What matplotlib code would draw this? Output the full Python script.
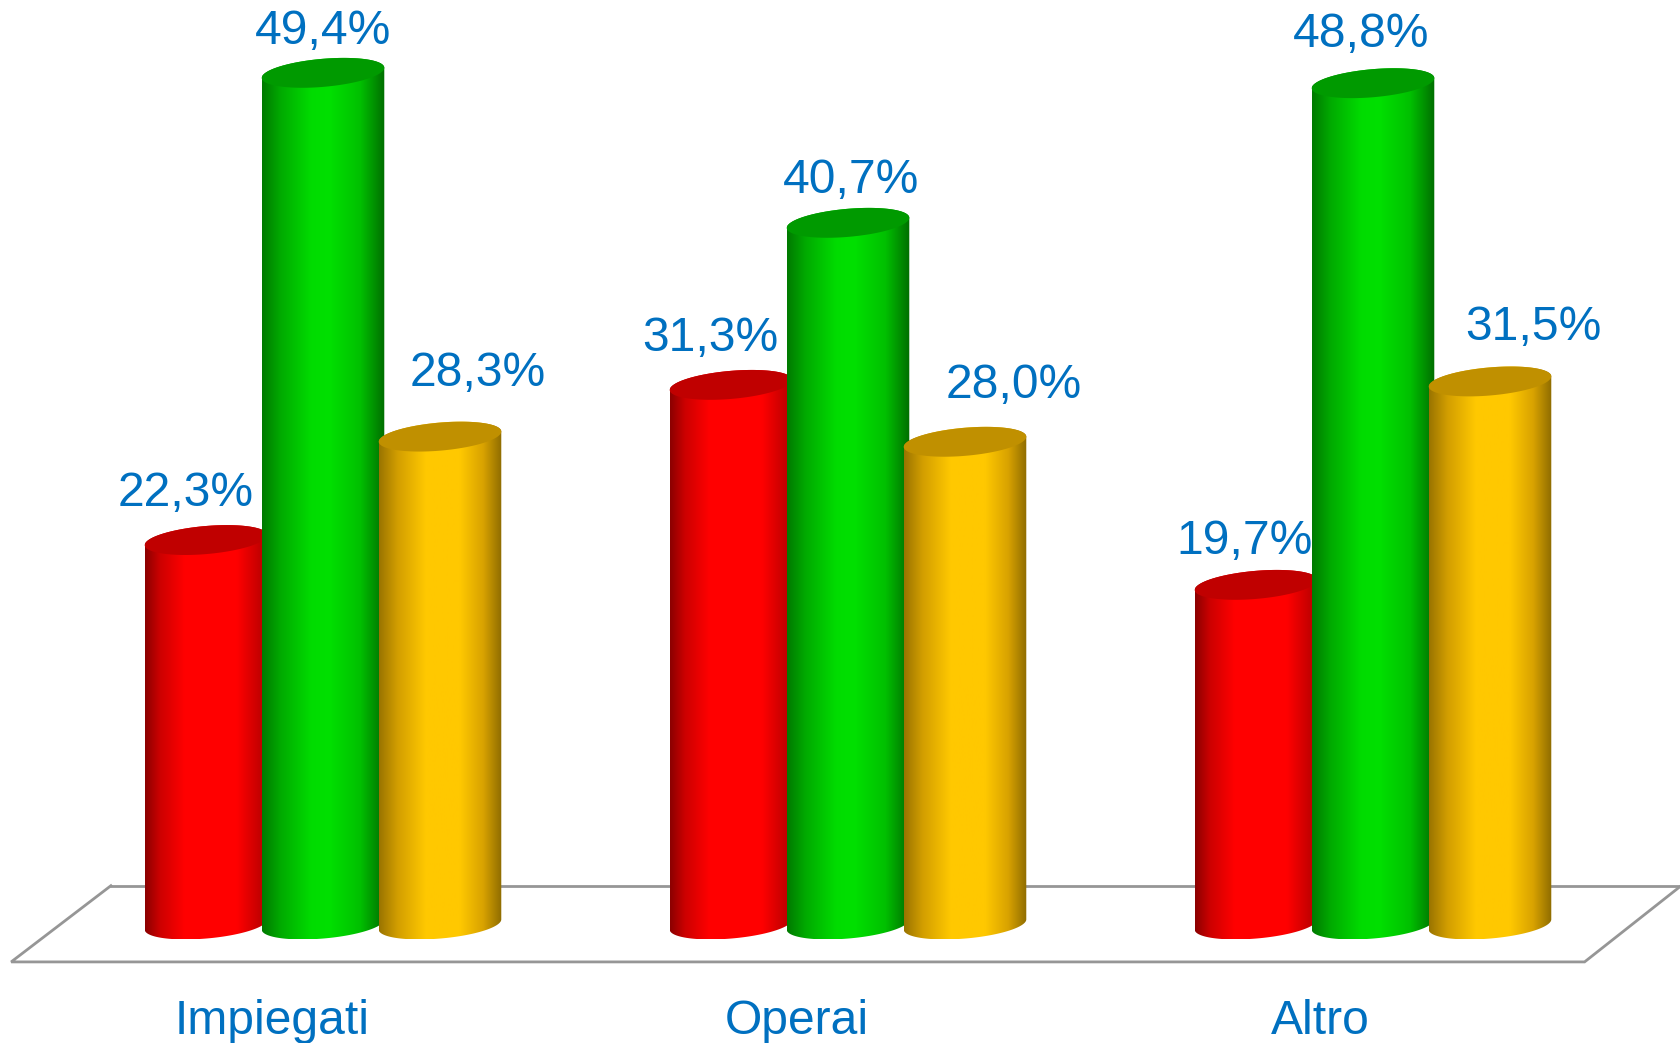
import numpy as np
import matplotlib
matplotlib.use("Agg")
import matplotlib.pyplot as plt
from matplotlib.colors import LinearSegmentedColormap
from matplotlib.patches import Polygon

plt.rcParams["font.family"] = ["Liberation Sans", "DejaVu Sans"]

categories = ["Impiegati", "Operai", "Altro"]
rosso = [22.3, 31.3, 19.7]
verde = [49.4, 40.7, 48.8]
giallo = [28.3, 28.0, 31.5]

# label nudges in pixels, the labels were placed by hand in the original
rosso_dx = [-20, -21, -11]
rosso_dy = [46.5, 46, 43.5]
verde_dx = [0, 3, -12]
verde_dy = [41, 42, 49]
giallo_dx = [38, 49, 43]
giallo_dy = [63, 56, 54]

W, H = 1681, 1043
PX_X = 525.0   # pixels per category
PX_Y = 17.24   # pixels per percent point
X0, Y0 = 323.0, 924.5
STEP = 117 / PX_X
A, B, TILT = 61.5, 14.0, np.radians(5)
BLUE = "#0070C0"

fig = plt.figure(figsize=(W / 100, H / 100), dpi=100, facecolor="white")
ax = fig.add_axes([0, 0, 1, 1])
ax.axis("off")
xlim = (-X0 / PX_X, (W - X0) / PX_X)
ylim = ((Y0 - H) / PX_Y, Y0 / PX_Y)


def ellipse(cx, cy, t):
    dx = A * np.cos(t) * np.cos(TILT) - B * np.sin(t) * np.sin(TILT)
    dy = A * np.cos(t) * np.sin(TILT) + B * np.sin(t) * np.cos(TILT)
    return cx + dx / PX_X, cy + dy / PX_Y


def cylinder(ax, x, value, stops, cap, z):
    t0 = np.arctan2(-B * np.sin(TILT), A * np.cos(TILT))
    lower = np.linspace(t0 + np.pi, t0 + 2 * np.pi, 80)
    upper = np.linspace(t0, t0 + np.pi, 80)
    bx, by = ellipse(x, 0, lower)
    tx, ty = ellipse(x, value, upper)
    outline = np.column_stack([np.r_[bx, tx], np.r_[by, ty]])
    body = Polygon(outline, closed=True, fc="none", ec="none", transform=ax.transData)
    ax.add_patch(body)
    cmap = LinearSegmentedColormap.from_list("c", stops)
    grad = np.linspace(0, 1, 256)[None, :]
    im = ax.imshow(grad, cmap=cmap, aspect="auto", interpolation="bilinear",
                   extent=(bx.min(), bx.max(), by.min(), ty.max()), zorder=z)
    im.set_clip_path(body)
    cx, cy = ellipse(x, value, np.linspace(0, 2 * np.pi, 160))
    ax.fill(cx, cy, color=cap, lw=0, zorder=z + 0.1)


series = [
    (rosso, rosso_dx, rosso_dy, -1, "#C00000",
     [(0, "#8B0000"), (0.12, "#CC0000"), (0.32, "#FF0000"), (0.75, "#FF0000"), (1, "#B00000")]),
    (verde, verde_dx, verde_dy, 0, "#009A00",
     [(0, "#007A00"), (0.15, "#00AA00"), (0.4, "#00DC00"), (0.55, "#00E000"), (0.8, "#00C000"), (1, "#006E00")]),
    (giallo, giallo_dx, giallo_dy, 1, "#C09000",
     [(0, "#9A7400"), (0.15, "#D29E00"), (0.38, "#FFC800"), (0.66, "#FFC800"), (0.85, "#D8A200"), (1, "#8F6C00")]),
]

# floor
floor_x = [-0.404, xlim[1]]
ax.plot(floor_x, [2.25, 2.25], color="#969696", lw=2.0, zorder=1)
ax.plot([-0.404, -0.594, 2.403, 2.587], [2.25, -2.17, -2.17, 2.25],
        color="#969696", lw=2.0, zorder=1, solid_joinstyle="miter")

label_dx = [-51, -51, -53]
for i, cat in enumerate(categories):
    for j, (vals, ldx, ldy, off, cap, stops) in enumerate(series):
        x = i + off * STEP
        cylinder(ax, x, vals[i], stops, cap, 3 + i * 3 + j)
        label = f"{vals[i]:.1f}%".replace(".", ",")
        ax.text(x + ldx[i] / PX_X, vals[i] + ldy[i] / PX_Y, label, color=BLUE,
                fontsize=34.6, ha="center", va="center", zorder=30)
    ax.text(i + label_dx[i] / PX_X, -109.5 / PX_Y, cat, color=BLUE, fontsize=34.6,
            ha="center", va="baseline", zorder=30)

ax.set_xlim(xlim)
ax.set_ylim(ylim)
fig.savefig("out.png", dpi=100, facecolor="white")
